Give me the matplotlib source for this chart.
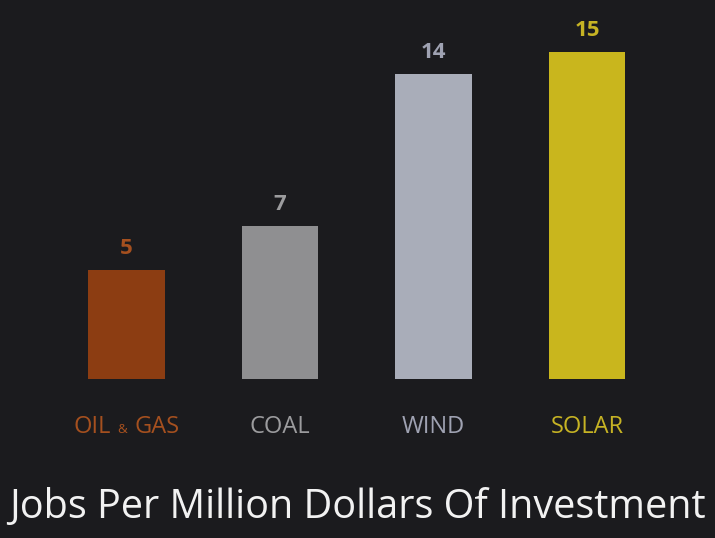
import matplotlib
matplotlib.use("Agg")
import matplotlib.pyplot as plt
from matplotlib.offsetbox import TextArea, HPacker, AnnotationBbox

categories = ["OIL & GAS", "COAL", "WIND", "SOLAR"]
jobs = [5, 7, 14, 15]
title = "Jobs Per Million Dollars Of Investment"

BG = "#1b1b1e"
bar_colors = ["#8c3d12", "#8f8f91", "#a9adb9", "#c9b61d"]
text_colors = ["#a5501f", "#9c9c9e", "#9fa2b2", "#c6b324"]
FONT = "Open Sans"

fig = plt.figure(figsize=(7.15, 5.38), dpi=100)
fig.patch.set_facecolor(BG)
ax = fig.add_axes([0, 0, 1, 1])
ax.set_facecolor(BG)
ax.axis("off")

x = list(range(len(categories)))
ax.bar(x, jobs, width=0.5, color=bar_colors)
ax.set_xlim(-0.824, 3.834)
ax.set_ylim(-7.29, 17.39)

for xi, v, c in zip(x, jobs, text_colors):
    ax.annotate(str(v), (xi, v), xytext=(0, 8), textcoords="offset points",
                ha="center", va="bottom", color=c, fontsize=16,
                fontweight="bold", family=FONT)

# category labels; the "&" in OIL & GAS is set smaller
for xi, name, c in zip(x, categories, text_colors):
    if "&" in name:
        left, right = [s.strip() for s in name.split("&")]
        parts = [TextArea(left, textprops=dict(color=c, fontsize=17, family=FONT)),
                 TextArea("&", textprops=dict(color=c, fontsize=9.5, family=FONT)),
                 TextArea(right, textprops=dict(color=c, fontsize=17, family=FONT))]
        box = HPacker(children=parts, align="baseline", pad=0, sep=5)
        ab = AnnotationBbox(box, (xi, -2.2), frameon=False, box_alignment=(0.5, 0.5))
        ax.add_artist(ab)
    else:
        ax.text(xi, -2.2, name, ha="center", va="center", color=c,
                fontsize=17, family=FONT)

fig.text(0.5, 0.056, title, ha="center", va="center", color="#f2f2f2",
         fontsize=28.5, family=FONT)

fig.savefig("out.png", dpi=100, facecolor=fig.get_facecolor())
